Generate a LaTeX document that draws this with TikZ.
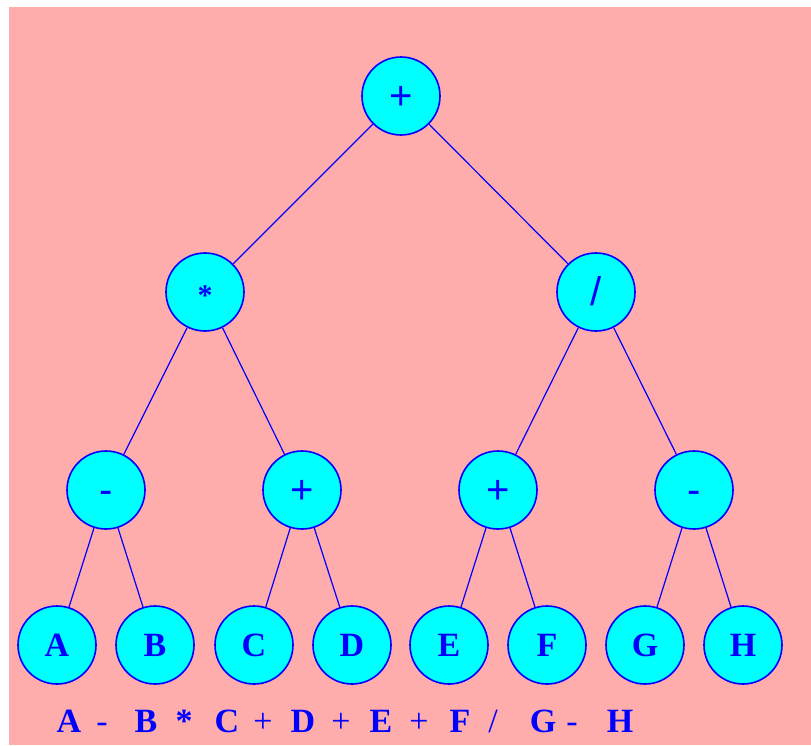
\documentclass[tikz,border=0pt]{standalone}
\usepackage{fontspec}
\setmainfont{Liberation Serif}
\newfontfamily\opfont{Liberation Sans}
\usetikzlibrary{positioning}
\definecolor{bgpink}{HTML}{FFACAC}
\definecolor{nodecyan}{HTML}{00FFFF}
\definecolor{inkblue}{HTML}{0000FF}
\tikzset{tn/.style={circle, draw=inkblue, line width=1.6pt, fill=nodecyan, minimum size=78pt, inner sep=0pt, text=inkblue},
  opn/.style={tn, font=\opfont\fontsize{40}{40}\selectfont, text height=27pt, text depth=0pt},
  leaf/.style={tn, font=\bfseries\fontsize{34}{34}\selectfont},
  br/.style={inkblue, line width=1.2pt},
  tok/.style={anchor=base, inner sep=0pt, text=inkblue, font=\bfseries\fontsize{34}{34}\selectfont},
  optok/.style={tok, font=\fontsize{34}{34}\selectfont}}

\begin{document}
\begin{tikzpicture}[x=1pt, y=-1pt]
  \fill[white] (0,0) rectangle (811,745);
  \fill[bgpink] (9,7) rectangle (811,745);
  % operators
  \node[opn] (root) at (401,96) {+};
  \node[opn, font=\bfseries\fontsize{30}{30}\selectfont] (mul) at (205,292) {*};
  \node[opn] (dv) at (596,292) {/};
  \node[opn] (subL) at (106,490) {-};
  \node[opn] (addL) at (302,490) {+};
  \node[opn] (addR) at (498,490) {+};
  \node[opn] (subR) at (694,490) {-};
  % leaves
  \foreach \n/\x in {A/57, B/155, C/254, D/352, E/449, F/547, G/645, H/743}
     \node[leaf] (\n) at (\x,645) {\n};
  \draw[br] (root)--(mul) (root)--(dv);
  \draw[br] (mul)--(subL) (mul)--(addL) (dv)--(addR) (dv)--(subR);
  \draw[br] (subL)--(A) (subL)--(B) (addL)--(C) (addL)--(D);
  \draw[br] (addR)--(E) (addR)--(F) (subR)--(G) (subR)--(H);
  % infix line
  \foreach \t/\x [count=\i] in {A/69, B/146, C/227, D/303, E/381, F/460, G/543, H/620}
     \node[tok] (v\i) at (\x,732) {\t};
  \foreach \t/\x [count=\i] in {-/102, +/263, +/341, +/419, {/}/493, -/572}
     \node[optok] (o\i) at (\x,732) {\t};
  \node[tok] (star) at (184,732) {*};
\end{tikzpicture}
\end{document}
